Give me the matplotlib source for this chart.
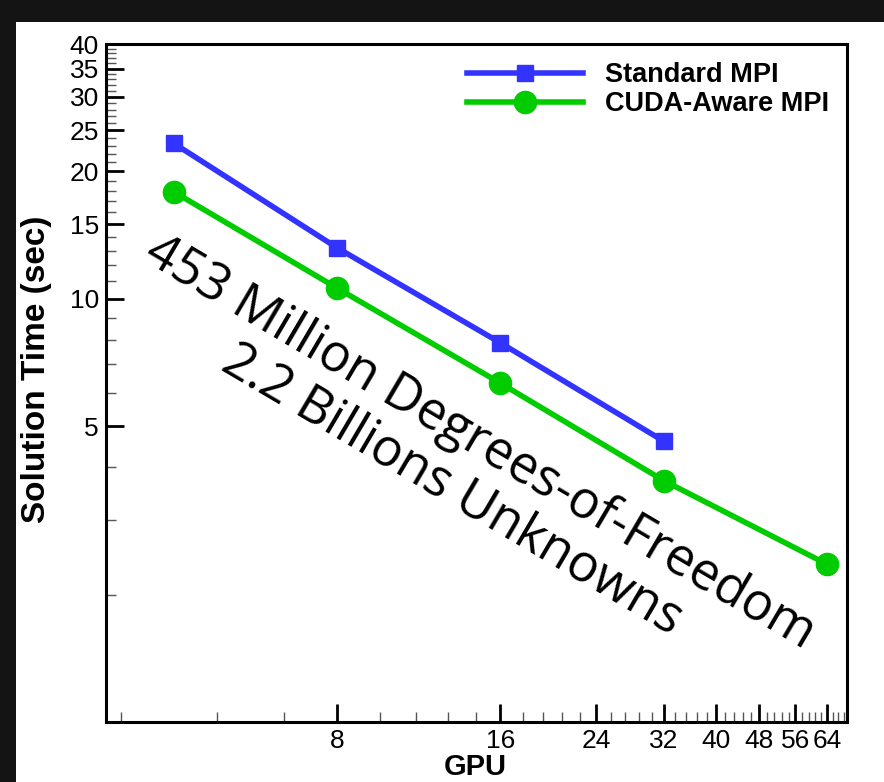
import matplotlib
matplotlib.use("Agg")
import matplotlib.pyplot as plt
from matplotlib import font_manager
from matplotlib.patches import Rectangle
from matplotlib.ticker import FixedLocator, FixedFormatter, NullFormatter

# data
gpus = [4, 8, 16, 32, 64]
standard_mpi = [23.3, 13.2, 7.87, 4.61]
cuda_aware_mpi = [17.9, 10.6, 6.32, 3.72, 2.36]

x_ticks = [8, 16, 24, 32, 40, 48, 56, 64]
y_ticks = [5, 10, 15, 20, 25, 30, 35, 40]

# condensed face for the tick numbers, if there is one
names = {f.name for f in font_manager.fontManager.ttflist}
narrow = "Liberation Sans Narrow" if "Liberation Sans Narrow" in names else "Liberation Sans"

fig = plt.figure(figsize=(8.84, 7.82), dpi=100, facecolor="white")
# dark frame on the top and left
dark = "#141414"
fig.patches.append(Rectangle((0, 1 - 22 / 782), 1, 22 / 782, transform=fig.transFigure,
                             facecolor=dark, edgecolor="none", zorder=-5))
fig.patches.append(Rectangle((0, 0), 16 / 884, 1, transform=fig.transFigure,
                             facecolor=dark, edgecolor="none", zorder=-5))

ax = fig.add_axes([106 / 884, 1 - 722 / 782, (847 - 106) / 884, (722 - 44) / 782])
ax.set_zorder(2)
ax.set_facecolor("white")

ax.plot(gpus[:len(standard_mpi)], standard_mpi, color="#3333ff", lw=4,
        marker="s", markersize=12, label="Standard MPI")
ax.plot(gpus, cuda_aware_mpi, color="#00cc00", lw=4,
        marker="o", markersize=16, label="CUDA-Aware MPI")

ax.set_xscale("log")
ax.set_yscale("log")
ax.set_xlim(3, 69.7)
ax.set_ylim(1, 40)

ax.xaxis.set_major_locator(FixedLocator(x_ticks))
ax.xaxis.set_major_formatter(FixedFormatter([str(v) for v in x_ticks]))
x_minor = [round(1.6 * k, 1) for k in range(2, 44) if k % 5 != 0]
ax.xaxis.set_minor_locator(FixedLocator(x_minor))
ax.xaxis.set_minor_formatter(NullFormatter())

ax.yaxis.set_major_locator(FixedLocator(y_ticks))
ax.yaxis.set_major_formatter(FixedFormatter([str(v) for v in y_ticks]))
ax.yaxis.set_minor_locator(FixedLocator([v for v in range(2, 40) if v % 5 != 0]))
ax.yaxis.set_minor_formatter(NullFormatter())

ax.tick_params(which="major", direction="in", length=13, width=2, labelsize=19,
               top=False, right=False, pad=5)
ax.tick_params(which="minor", direction="in", length=7, width=1, color="#555555",
               top=False, right=False)
for lab in ax.get_xticklabels() + ax.get_yticklabels():
    lab.set_fontfamily(narrow)

for s in ax.spines.values():
    s.set_linewidth(2.2)

ax.set_xlabel("GPU", fontsize=21, fontweight="bold", family="Liberation Sans")
ax.xaxis.set_label_coords(0.498, -0.045)
ax.set_ylabel("Solution Time (sec)", fontsize=24, fontweight="bold", family="Liberation Sans")
ax.yaxis.set_label_coords(-0.073, 0.52)

ax.legend(loc="upper left", bbox_to_anchor=(467 / 884, 1 - 62 / 782),
          bbox_transform=fig.transFigure, frameon=False, borderpad=0, borderaxespad=0,
          handlelength=4.3, prop={"family": "Liberation Sans", "weight": "bold", "size": 19.5},
          labelspacing=0.12, handletextpad=0.8)

fig.text(466 / 884, 1 - 466 / 782,
         "453 Million Degrees-of-Freedom\n2.2 Billions Unknowns",
         fontsize=37, family="Open Sans", rotation=-30.5, rotation_mode="anchor",
         ha="center", va="center", multialignment="center", linespacing=1.1,
         zorder=5)

fig.savefig("out.png", dpi=100, facecolor=fig.get_facecolor())
